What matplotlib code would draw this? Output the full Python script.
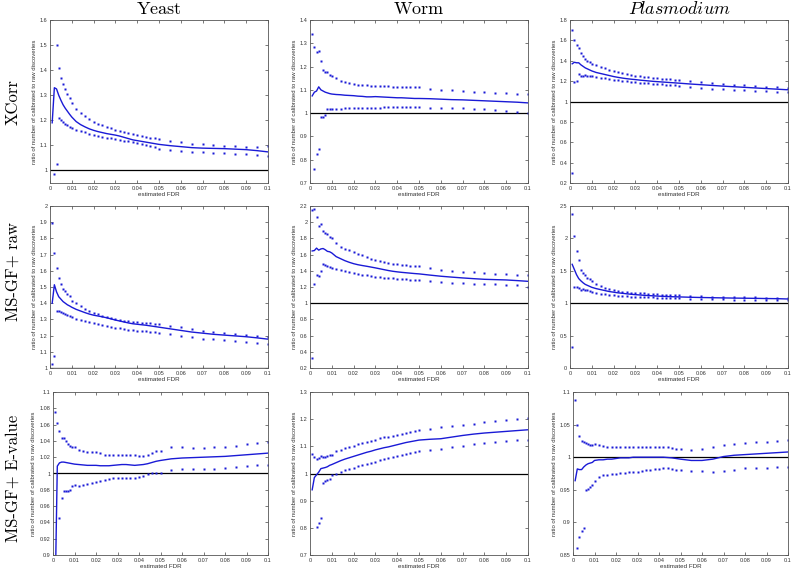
import numpy as np
import matplotlib
matplotlib.use('Agg')
import matplotlib.pyplot as plt
from matplotlib.ticker import FuncFormatter

plt.rcParams['mathtext.fontset'] = 'cm'
plt.rcParams['font.family'] = ['Liberation Sans', 'DejaVu Sans']

nan = np.nan

# estimated FDR grid
x_fdr = [0.001, 0.002, 0.003, 0.004, 0.005, 0.006, 0.007, 0.008, 0.009, 0.010,
         0.012, 0.014, 0.016, 0.018, 0.020, 0.022, 0.024, 0.026, 0.028, 0.030,
         0.032, 0.034, 0.036, 0.038, 0.040, 0.042, 0.044, 0.046, 0.048, 0.050,
         0.055, 0.060, 0.065, 0.070, 0.075, 0.080, 0.085, 0.090, 0.095, 0.100]

col_titles = [r'$\mathrm{Yeast}$', r'$\mathrm{Worm}$', r'$\mathit{Plasmodium}$']
row_titles = ['XCorr', 'MS-GF+ raw', 'MS-GF+ E-value']

# --- XCorr ---
yeast_xcorr_hi = [nan, nan, 1.50, 1.41, 1.367, 1.344, 1.323, 1.305, 1.288, 1.27,
                  1.245, 1.229, 1.217, 1.205, 1.195, 1.187, 1.18, 1.173, 1.168, 1.163,
                  1.159, 1.153, 1.148, 1.144, 1.14, 1.136, 1.133, 1.13, 1.128, 1.126,
                  1.117, 1.113, 1.107, 1.104, 1.1, 1.099, 1.096, 1.095, 1.093, 1.097]
yeast_xcorr_lo = [nan, 0.987, 1.025, 1.209, 1.2, 1.193, 1.187, 1.18, 1.175, 1.169,
                  1.163, 1.157, 1.152, 1.147, 1.141, 1.137, 1.133, 1.131, 1.128, 1.125,
                  1.123, 1.119, 1.116, 1.113, 1.109, 1.105, 1.101, 1.097, 1.092, 1.087,
                  1.08, 1.077, 1.075, 1.072, 1.071, 1.068, 1.067, 1.064, 1.063, 1.057]
yeast_xcorr_mid = [1.19, 1.33, 1.325, 1.30, 1.28, 1.262, 1.248, 1.236, 1.224, 1.213,
                   1.195, 1.183, 1.174, 1.166, 1.16, 1.155, 1.151, 1.147, 1.144, 1.141,
                   1.137, 1.132, 1.127, 1.122, 1.119, 1.116, 1.113, 1.11, 1.107, 1.104,
                   1.099, 1.095, 1.091, 1.089, 1.088, 1.087, 1.085, 1.083, 1.079, 1.074]

worm_xcorr_hi = [1.338, 1.285, 1.262, 1.269, 1.223, 1.187, 1.175, 1.175, 1.165, 1.158,
                 1.149, 1.14, 1.134, 1.129, 1.126, 1.122, 1.12, 1.119, 1.118, 1.118,
                 1.117, 1.116, 1.115, 1.114, 1.114, 1.113, 1.113, 1.112, 1.112, 1.111,
                 1.103, 1.101, 1.098, 1.095, 1.092, 1.09, 1.087, 1.085, 1.083, 1.082]
worm_xcorr_lo = [nan, 0.759, 0.824, 0.848, 0.985, 0.985, 0.99, 1.017, 1.017, 1.017,
                 1.018, 1.018, 1.02, 1.02, 1.021, 1.022, 1.022, 1.023, 1.023, 1.024,
                 1.024, 1.025, 1.026, 1.026, 1.027, 1.027, 1.027, 1.026, 1.025, 1.025,
                 1.024, 1.023, 1.022, 1.021, 1.019, 1.016, 1.014, 1.01, 1.006, 1.002]
worm_xcorr_mid = [1.074, 1.09, 1.095, 1.113, 1.10, 1.095, 1.09, 1.087, 1.084, 1.082,
                  1.08, 1.079, 1.077, 1.076, 1.075, 1.073, 1.072, 1.07, 1.07, 1.071,
                  1.07, 1.069, 1.068, 1.067, 1.066, 1.066, 1.065, 1.064, 1.063, 1.063,
                  1.062, 1.06, 1.058, 1.057, 1.055, 1.053, 1.051, 1.049, 1.047, 1.044]

plas_xcorr_hi = [1.70, 1.60, 1.55, 1.53, 1.48, 1.45, 1.42, 1.395, 1.385, 1.37,
                 1.355, 1.34, 1.325, 1.31, 1.30, 1.29, 1.28, 1.27, 1.26, 1.255,
                 1.25, 1.243, 1.238, 1.233, 1.228, 1.225, 1.222, 1.218, 1.215, 1.21,
                 1.2, 1.19, 1.18, 1.172, 1.165, 1.158, 1.15, 1.145, 1.14, 1.135]
plas_xcorr_lo = [0.30, 1.19, 1.20, 1.27, 1.255, 1.255, 1.26, 1.255, 1.25, 1.25,
                 1.24, 1.235, 1.228, 1.222, 1.215, 1.21, 1.205, 1.2, 1.195, 1.19,
                 1.186, 1.182, 1.178, 1.175, 1.172, 1.168, 1.165, 1.161, 1.158, 1.155,
                 1.145, 1.135, 1.127, 1.12, 1.115, 1.11, 1.105, 1.10, 1.097, 1.092]
plas_xcorr_mid = [1.37, 1.385, 1.38, 1.38, 1.36, 1.345, 1.33, 1.32, 1.31, 1.30,
                  1.285, 1.275, 1.265, 1.255, 1.245, 1.237, 1.23, 1.224, 1.219, 1.215,
                  1.21, 1.206, 1.202, 1.198, 1.195, 1.192, 1.189, 1.186, 1.183, 1.18,
                  1.172, 1.165, 1.158, 1.151, 1.145, 1.139, 1.133, 1.127, 1.121, 1.115]

# --- MS-GF+ raw ---
yeast_raw_hi = [1.895, 1.712, 1.62, 1.556, 1.52, 1.486, 1.474, 1.457, 1.444, 1.416,
                1.403, 1.383, 1.366, 1.352, 1.34, 1.331, 1.323, 1.315, 1.309, 1.302,
                1.296, 1.29, 1.288, 1.284, 1.282, 1.28, 1.278, 1.276, 1.272, 1.27,
                1.259, 1.251, 1.239, 1.228, 1.222, 1.216, 1.21, 1.204, 1.198, 1.193]
yeast_raw_lo = [1.025, 1.074, 1.352, 1.35, 1.345, 1.339, 1.335, 1.327, 1.321, 1.313,
                1.305, 1.294, 1.288, 1.282, 1.276, 1.27, 1.265, 1.259, 1.253, 1.249,
                1.245, 1.241, 1.237, 1.233, 1.231, 1.229, 1.227, 1.225, 1.222, 1.218,
                1.208, 1.198, 1.19, 1.181, 1.177, 1.173, 1.167, 1.16, 1.154, 1.148]
yeast_raw_mid = [1.40, 1.514, 1.47, 1.44, 1.425, 1.41, 1.40, 1.39, 1.383, 1.375,
                 1.362, 1.352, 1.342, 1.333, 1.326, 1.321, 1.316, 1.31, 1.303, 1.296,
                 1.29, 1.284, 1.278, 1.273, 1.27, 1.267, 1.264, 1.26, 1.256, 1.252,
                 1.242, 1.232, 1.222, 1.215, 1.208, 1.203, 1.198, 1.193, 1.186, 1.178]

worm_raw_hi = [2.154, 2.167, 2.06, 1.947, 1.976, 1.89, 1.87, 1.85, 1.82, 1.80,
               1.74, 1.70, 1.673, 1.652, 1.632, 1.61, 1.59, 1.57, 1.55, 1.535,
               1.522, 1.51, 1.5, 1.49, 1.48, 1.472, 1.466, 1.46, 1.457, 1.455,
               1.43, 1.415, 1.40, 1.39, 1.38, 1.372, 1.365, 1.358, 1.35, 1.345]
worm_raw_lo = [0.325, 1.237, 1.345, 1.33, 1.40, 1.48, 1.47, 1.462, 1.445, 1.437,
               1.42, 1.41, 1.40, 1.387, 1.374, 1.362, 1.352, 1.343, 1.335, 1.328,
               1.321, 1.315, 1.31, 1.305, 1.3, 1.297, 1.294, 1.291, 1.288, 1.285,
               1.275, 1.265, 1.255, 1.245, 1.24, 1.236, 1.232, 1.228, 1.224, 1.205]
worm_raw_mid = [1.645, 1.65, 1.68, 1.655, 1.67, 1.675, 1.66, 1.64, 1.635, 1.62,
                1.575, 1.55, 1.525, 1.505, 1.488, 1.475, 1.465, 1.456, 1.446, 1.436,
                1.425, 1.414, 1.403, 1.394, 1.387, 1.381, 1.376, 1.371, 1.366, 1.362,
                1.347, 1.333, 1.322, 1.312, 1.303, 1.295, 1.291, 1.287, 1.279, 1.27]

plas_raw_hi = [2.383, 2.03, 1.81, 1.666, 1.52, 1.46, 1.43, 1.39, 1.366, 1.34,
               1.3, 1.265, 1.24, 1.22, 1.205, 1.19, 1.18, 1.17, 1.165, 1.16,
               1.155, 1.15, 1.145, 1.14, 1.137, 1.134, 1.131, 1.128, 1.125, 1.122,
               1.11, 1.105, 1.1, 1.095, 1.093, 1.09, 1.088, 1.085, 1.083, 1.08]
plas_raw_lo = [0.33, 1.25, 1.25, 1.23, 1.21, 1.22, 1.21, 1.2, 1.19, 1.18,
               1.16, 1.145, 1.135, 1.125, 1.12, 1.115, 1.11, 1.106, 1.102, 1.099,
               1.096, 1.093, 1.09, 1.088, 1.086, 1.084, 1.082, 1.08, 1.078, 1.075,
               1.065, 1.062, 1.06, 1.058, 1.055, 1.053, 1.05, 1.048, 1.045, 1.045]
plas_raw_mid = [1.60, 1.52, 1.44, 1.38, 1.345, 1.315, 1.29, 1.275, 1.26, 1.245,
                1.225, 1.21, 1.195, 1.18, 1.17, 1.16, 1.153, 1.145, 1.138, 1.132,
                1.127, 1.122, 1.118, 1.114, 1.11, 1.107, 1.104, 1.101, 1.099, 1.097,
                1.092, 1.088, 1.085, 1.082, 1.079, 1.077, 1.075, 1.072, 1.07, 1.065]

# --- MS-GF+ E-value ---
yeast_ev_hi = [1.075, 1.062, 1.052, 1.044, 1.044, 1.04, 1.036, 1.034, 1.032, 1.032,
               1.029, 1.027, 1.026, 1.026, 1.026, 1.025, 1.023, 1.023, 1.023, 1.023,
               1.023, 1.023, 1.023, 1.023, 1.022, 1.022, 1.023, 1.025, 1.027, 1.028,
               1.032, 1.032, 1.031, 1.031, 1.033, 1.033, 1.034, 1.036, 1.037, 1.039]
yeast_ev_lo = [nan, nan, 0.945, 0.97, 0.979, 0.979, 0.979, 0.98, 0.985, 0.986,
               0.985, 0.986, 0.987, 0.988, 0.99, 0.991, 0.992, 0.993, 0.994, 0.994,
               0.995, 0.995, 0.995, 0.995, 0.996, 0.997, 0.999, 1.0, 1.001, 1.001,
               1.004, 1.005, 1.005, 1.006, 1.006, 1.007, 1.008, 1.009, 1.01, 1.011]
yeast_ev_mid = [0.85, 1.009, 1.013, 1.014, 1.014, 1.0135, 1.013, 1.0125, 1.012, 1.0115,
                1.011, 1.0105, 1.01, 1.01, 1.01, 1.0095, 1.0095, 1.0095, 1.01, 1.0105,
                1.011, 1.011, 1.0105, 1.01, 1.0105, 1.011, 1.012, 1.0135, 1.015, 1.016,
                1.018, 1.019, 1.0195, 1.02, 1.0205, 1.021, 1.022, 1.023, 1.024, 1.025]

worm_ev_hi = [1.072, 1.059, 1.054, 1.057, 1.063, 1.059, 1.059, 1.064, 1.069, 1.069,
              1.081, 1.087, 1.093, 1.098, 1.103, 1.108, 1.113, 1.117, 1.121, 1.125,
              1.129, 1.133, 1.136, 1.139, 1.143, 1.146, 1.149, 1.152, 1.156, 1.16,
              1.165, 1.17, 1.175, 1.18, 1.184, 1.188, 1.192, 1.196, 1.2, 1.206]
worm_ev_lo = [nan, nan, 0.804, 0.817, 0.835, 0.964, 0.973, 0.975, 0.978, 0.995,
              1.0, 1.006, 1.012, 1.017, 1.022, 1.027, 1.032, 1.036, 1.04, 1.044,
              1.048, 1.052, 1.056, 1.06, 1.064, 1.068, 1.072, 1.076, 1.079, 1.082,
              1.087, 1.091, 1.096, 1.102, 1.108, 1.113, 1.117, 1.12, 1.122, 1.124]
worm_ev_mid = [0.94, 0.985, 0.995, 1.005, 1.018, 1.02, 1.022, 1.025, 1.03, 1.033,
               1.04, 1.047, 1.053, 1.058, 1.063, 1.068, 1.073, 1.078, 1.082, 1.087,
               1.091, 1.095, 1.098, 1.102, 1.106, 1.11, 1.114, 1.117, 1.12, 1.123,
               1.126, 1.128, 1.134, 1.14, 1.145, 1.149, 1.152, 1.155, 1.158, 1.161]

plas_ev_hi = [1.088, 1.05, 1.033, 1.025, 1.023, 1.022, 1.02, 1.019, 1.019, 1.02,
              1.018, 1.017, 1.016, 1.015, 1.015, 1.016, 1.016, 1.016, 1.016, 1.016,
              1.016, 1.016, 1.015, 1.015, 1.015, 1.015, 1.015, 1.014, 1.013, 1.012,
              1.011, 1.013, 1.016, 1.019, 1.02, 1.022, 1.023, 1.024, 1.025, 1.026]
plas_ev_lo = [nan, 0.86, 0.878, 0.887, 0.892, 0.95, 0.951, 0.955, 0.957, 0.963,
              0.97, 0.972, 0.973, 0.974, 0.975, 0.976, 0.976, 0.977, 0.977, 0.978,
              0.979, 0.98, 0.981, 0.982, 0.982, 0.983, 0.983, 0.982, 0.981, 0.98,
              0.979, 0.979, 0.978, 0.979, 0.981, 0.983, 0.984, 0.984, 0.985, 0.985]
plas_ev_mid = [0.964, 0.982, 0.981, 0.981, 0.985, 0.988, 0.99, 0.991, 0.992, 0.995,
               0.996, 0.996, 0.997, 0.997, 0.998, 0.999, 0.999, 0.999, 1.0, 1.0,
               1.0, 1.0, 1.0, 1.0, 1.0, 1.0, 0.9995, 0.999, 0.998, 0.997,
               0.995, 0.995, 0.997, 1.001, 1.003, 1.004, 1.005, 1.006, 1.007, 1.008]

panels = [
    [(yeast_xcorr_hi, yeast_xcorr_lo, yeast_xcorr_mid),
     (worm_xcorr_hi, worm_xcorr_lo, worm_xcorr_mid),
     (plas_xcorr_hi, plas_xcorr_lo, plas_xcorr_mid)],
    [(yeast_raw_hi, yeast_raw_lo, yeast_raw_mid),
     (worm_raw_hi, worm_raw_lo, worm_raw_mid),
     (plas_raw_hi, plas_raw_lo, plas_raw_mid)],
    [(yeast_ev_hi, yeast_ev_lo, yeast_ev_mid),
     (worm_ev_hi, worm_ev_lo, worm_ev_mid),
     (plas_ev_hi, plas_ev_lo, plas_ev_mid)],
]

# (ymin, ymax, first tick, tick step)
y_axes = [
    [(0.95, 1.6, 1.0, 0.1), (0.7, 1.4, 0.7, 0.1), (0.2, 1.8, 0.2, 0.2)],
    [(1.0, 2.0, 1.0, 0.1), (0.2, 2.2, 0.2, 0.2), (0.0, 2.5, 0.0, 0.5)],
    [(0.9, 1.1, 0.9, 0.02), (0.7, 1.3, 0.7, 0.1), (0.85, 1.1, 0.85, 0.05)],
]

W, H = 791, 569
blue = '#1a1ad6'
rows_px = [(20, 183), (206, 368), (392, 555)]
lefts_px = [[50, 310, 570], [50, 310, 570], [53, 310, 573]]
rights_px = [268, 528, 788]
row_label_y = [102, 272, 478]

fig = plt.figure(figsize=(W / 100, H / 100), dpi=100)
fmt = FuncFormatter(lambda v, p: '%g' % round(v, 4))

for r in range(3):
    top, bot = rows_px[r]
    for c in range(3):
        left, right = lefts_px[r][c], rights_px[c]
        ax = fig.add_axes([left / W, 1 - bot / H, (right - left) / W, (bot - top) / H])
        hi, lo, mid = panels[r][c]
        ax.plot([0, 0.1], [1, 1], color='black', lw=0.9)
        ax.plot(x_fdr, mid, color=blue, lw=1.0)
        ax.plot(x_fdr, hi, ls='none', marker='s', ms=1.5, mfc=blue, mec='none')
        ax.plot(x_fdr, lo, ls='none', marker='s', ms=1.5, mfc=blue, mec='none')

        y0, y1, t0, step = y_axes[r][c]
        ax.set_xlim(0, 0.1)
        ax.set_ylim(y0, y1)
        ax.set_xticks(np.round(np.arange(0, 0.1001, 0.01), 3))
        ax.set_yticks(np.round(np.arange(t0, y1 + step / 2, step), 4))
        ax.xaxis.set_major_formatter(fmt)
        ax.yaxis.set_major_formatter(fmt)
        ax.tick_params(direction='in', length=2.5, width=0.5, top=True, right=True,
                       labelsize=4, pad=2, color='#444444', labelcolor='#333333')
        for s in ax.spines.values():
            s.set_color('#555555')
            s.set_linewidth(0.6)
        ax.set_xlabel('estimated FDR', fontsize=4.5, labelpad=1, color='#333333')
        ax.set_ylabel('ratio of number of calibrated to raw discoveries',
                      fontsize=4.3, labelpad=2, color='#333333')

        if r == 0:
            fig.text((left + right) / 2 / W, 1 - 9 / H, col_titles[c],
                     ha='center', va='center', fontsize=13)
    fig.text(13 / W, 1 - row_label_y[r] / H, row_titles[r], rotation=90,
             ha='center', va='center', fontsize=12, family='cmr10')

fig.savefig('out.png', dpi=100)
